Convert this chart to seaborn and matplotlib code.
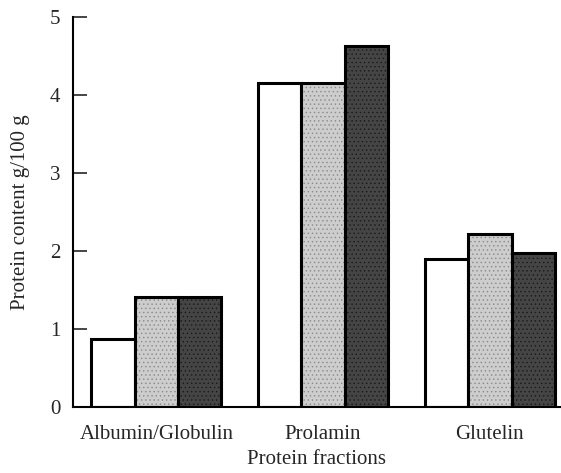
import pandas as pd
import matplotlib.pyplot as plt
import seaborn as sns

fractions = ["Albumin/Globulin", "Prolamin", "Glutelin"]
samples = ["A", "B", "C"]
values_a = [0.87, 4.15, 1.90]
values_b = [1.41, 4.15, 2.22]
values_c = [1.41, 4.63, 1.98]

rows = []
for s, vals in zip(samples, [values_a, values_b, values_c]):
    for f, v in zip(fractions, vals):
        rows.append({"Fraction": f, "Sample": s, "Protein": v})
df = pd.DataFrame(rows)

sns.set_style("ticks")
plt.rcParams["font.family"] = ["Liberation Serif", "DejaVu Serif"]
plt.rcParams["hatch.linewidth"] = 0.5

fig = plt.figure(figsize=(5.61, 4.73), dpi=100)
ax = fig.add_axes([0.13, 0.139, 0.868, 0.825])

palette = {"A": "white", "B": "#cdcdcd", "C": "#454545"}
sns.barplot(data=df, x="Fraction", y="Protein", hue="Sample", palette=palette,
            width=0.78, gap=0, edgecolor="black", linewidth=2.2, saturation=1,
            legend=False, ax=ax)

# stippled fills
hatches = {"A": "", "B": "....", "C": "...."}
hatch_cols = {"A": "black", "B": "#8a8a8a", "C": "#1a1a1a"}
for container, s in zip(ax.containers, samples):
    for bar in container:
        bar.set_hatch(hatches[s])
        bar._hatch_color = plt.matplotlib.colors.to_rgba(hatch_cols[s])

ax.set_ylim(0, 5)
ax.set_xlim(-0.5, 2.42)
ax.set_yticks([0, 1, 2, 3, 4, 5])
ax.tick_params(axis="y", direction="in", length=10, width=1.2, labelsize=15, pad=9)
ax.tick_params(axis="x", length=0, labelsize=15, pad=13)
ax.set_ylabel("Protein content g/100 g", fontsize=15, labelpad=14)
ax.set_xlabel("Protein fractions", fontsize=15, labelpad=4)
sns.despine(ax=ax)
for sp in ["left", "bottom"]:
    ax.spines[sp].set_linewidth(1.5)
    ax.spines[sp].set_color("black")

fig.savefig("out.png", dpi=100)
